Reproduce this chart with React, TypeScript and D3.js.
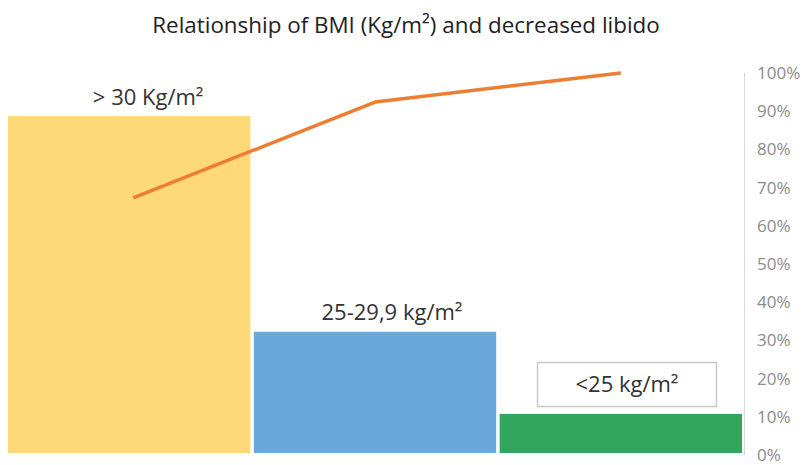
import React from "react";
import * as d3 from "d3";

const categories = ["> 30 Kg/m²", "25-29,9 kg/m²", "<25 kg/m²"];
const barValues = [33, 12, 4];
const cumulativePct = [67.3, 92.4, 100];
const pctTicks = [0, 10, 20, 30, 40, 50, 60, 70, 80, 90, 100];
const barColors = ["#FFD978", "#6AA8DB", "#31A65C"];
const title = "Relationship of BMI (Kg/m²) and decreased libido";

const W = 808;
const H = 465;
const left = 8;
const right = 742;
const top = 73;
const bottom = 455;
const FONT = "'Open Sans', 'Noto Sans', sans-serif";

export default function App() {
  const x = d3.scaleBand<string>().domain(categories).range([left, right]).paddingInner(0.014).paddingOuter(0);
  const yBar = d3.scaleLinear().domain([0, 37.2]).range([bottom, top]);
  const yPct = d3.scaleLinear().domain([0, 100]).range([bottom, top]);
  const cx = (i: number) => (x(categories[i]) as number) + x.bandwidth() / 2;
  const line = d3
    .line<number>()
    .x((_, i) => cx(i) + (i === 0 ? 4 : 0))
    .y((d) => yPct(d));

  return (
    <svg width={W} height={H} style={{ position: "absolute", left: 0, top: 0, background: "#fff" }}>
      <text x={406} y={33} textAnchor="middle" fontFamily={FONT} fontSize={22.4} fill="#222">
        {title}
      </text>
      {categories.map((c, i) => (
        <rect key={c} x={x(c)} y={yBar(barValues[i])} width={x.bandwidth()} height={bottom - 2 - yBar(barValues[i])} fill={barColors[i]} />
      ))}
      <line x1={744.5} x2={744.5} y1={top} y2={bottom} stroke="#d9d9d9" strokeWidth={1} />
      {pctTicks.map((t) => (
        <text key={t} x={757} y={yPct(t) + 6} fontFamily={FONT} fontSize={17} fill="#8c8c8c">
          {t}%
        </text>
      ))}
      <path d={line(cumulativePct) || ""} fill="none" stroke="#ED7D31" strokeWidth={3.5} strokeLinejoin="round" />
      <text x={cx(0) + 19} y={yBar(barValues[0]) - 11} textAnchor="middle" fontFamily={FONT} fontSize={22} fill="#333">
        {categories[0]}
      </text>
      <text x={cx(1) + 17} y={yBar(barValues[1]) - 12} textAnchor="middle" fontFamily={FONT} fontSize={22} fill="#333">
        {categories[1]}
      </text>
      <rect x={537.5} y={362.5} width={179} height={44} fill="#fff" stroke="#c8c8c8" strokeWidth={1.5} />
      <text x={627} y={392} textAnchor="middle" fontFamily={FONT} fontSize={22} fill="#333">
        {categories[2]}
      </text>
    </svg>
  );
}
